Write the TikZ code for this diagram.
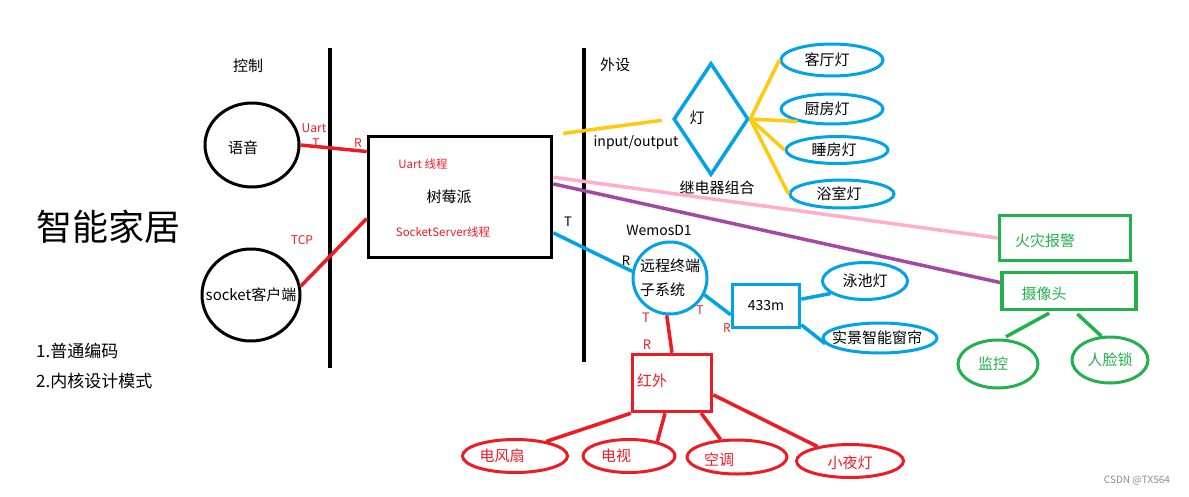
\documentclass[tikz,border=0pt]{standalone}
\usepackage{fontspec}
\setmainfont{Noto Sans CJK SC}
\usetikzlibrary{shapes.geometric}
\definecolor{pred}{RGB}{237,28,36}
\definecolor{pblue}{RGB}{0,162,232}
\definecolor{pyellow}{RGB}{255,201,14}
\definecolor{pgreen}{RGB}{34,177,76}
\definecolor{ppink}{RGB}{255,174,201}
\definecolor{ppurple}{RGB}{163,73,164}

\begin{document}
\begin{tikzpicture}[x=1pt,y=-1pt,
  lbl/.style={inner sep=0pt,font=\fontsize{15}{18}\selectfont},
  tag/.style={inner sep=0pt,text=pred,font=\fontsize{12}{14}\selectfont},
  wall/.style={line width=3.5pt},
  blob/.style={ellipse,draw,line width=3pt,inner sep=0pt},
  panel/.style={rectangle,draw,line width=3.5pt,inner sep=0pt},
  wire/.style={line width=3.5pt}]
\useasboundingbox (0,0) rectangle (1189,496);
\draw[wall] (330,48) -- (330,368);
\draw[wall] (584,48) -- (584,362);
\node[lbl] (ctrl) at (248,66) {控制};
\node[lbl,font=\fontsize{36}{40}\selectfont] (title) at (108,227) {智能家居};
\node[lbl,anchor=west,font=\fontsize{17}{20}\selectfont] (mode1) at (36,351) {1.普通编码};
\node[lbl,anchor=west,font=\fontsize{17}{20}\selectfont] (mode2) at (36,381) {2.内核设计模式};
\node[blob,minimum width=94pt,minimum height=84pt,label={[lbl,xshift=-9pt,yshift=-3pt]center:语音}] (voice) at (252,145) {};
\node[blob,minimum width=98pt,minimum height=92pt,label={[lbl]center:socket客户端}] (sock) at (251,295) {};
\node[panel,minimum width=183pt,minimum height=121pt] (pi) at (460,197) {};
\node[lbl] (pitxt) at (449,197) {树莓派};
\node[tag,font=\fontsize{11.5}{13}\selectfont] (uartth) at (423,164) {Uart 线程};
\node[tag,font=\fontsize{11.5}{13}\selectfont] (sockth) at (443,232) {SocketServer线程};
\node[tag] (uart) at (314,128) {Uart};
\node[tag] (uartt) at (316,143) {T};
\node[tag] (uartr) at (358,143) {R};
\node[tag] (tcp) at (302,240) {TCP};
\draw[wire,pred] (voice.east) -- (pi.154);
\draw[wire,pred] (sock.10) -- (pi.193);

\node[lbl] (peri) at (615,65) {外设};
\node[diamond,draw=pblue,line width=3.5pt,inner sep=0pt,minimum width=75pt,minimum height=112pt] (relay) at (711,119) {};
\node[lbl] (lamp) at (697,118) {灯};
\node[lbl,font=\fontsize{14}{16}\selectfont] (io) at (636,143) {input/output};
\node[lbl] (relaytxt) at (717,188) {继电器组合};
\node[blob,draw=pblue,minimum width=102pt,minimum height=32pt,label={[lbl,xshift=-5pt]center:客厅灯}] (living) at (832,60) {};
\node[blob,draw=pblue,minimum width=102pt,minimum height=30pt,label={[lbl,xshift=-5pt]center:厨房灯}] (kitchen) at (832,109) {};
\node[blob,draw=pblue,minimum width=102pt,minimum height=27pt,label={[lbl,xshift=-3pt]center:睡房灯}] (bedroom) at (837,150) {};
\node[blob,draw=pblue,minimum width=104pt,minimum height=28pt,label={[lbl,xshift=-3pt]center:浴室灯}] (bath) at (842,194) {};
\draw[wire,pyellow,shorten <=10pt,shorten >=10pt] (pi.north east) -- (relay.west);
\draw[wire,pyellow] (relay.east) -- (living.west);
\draw[wire,pyellow] (relay.east) -- (kitchen.200);
\draw[wire,pyellow] (relay.east) -- (bedroom.west);
\draw[wire,pyellow] (relay.east) -- (bath.west);

\node[panel,draw=pgreen,minimum width=131pt,minimum height=45pt] (fire) at (1065,238) {};
\node[lbl,text=pgreen] (firetxt) at (1045,241) {火灾报警};
\node[panel,draw=pgreen,minimum width=134pt,minimum height=37pt] (cam) at (1069,291) {};
\node[lbl,text=pgreen] (camtxt) at (1044,294) {摄像头};
\node[blob,draw=pgreen,minimum width=80pt,minimum height=48pt,label={[lbl,text=pgreen,xshift=-5pt]center:监控}] (monitor) at (998,364) {};
\node[blob,draw=pgreen,minimum width=76pt,minimum height=46pt,label={[lbl,text=pgreen]center:人脸锁}] (facelock) at (1110,360) {};
\draw[wire,ppink] (pi.12) -- (fire.west);
\draw[wire,ppurple] (pi.8) -- (cam.173);
\draw[wire,pgreen,shorten <=4pt,shorten >=4pt] (cam.-129) -- (monitor.80);
\draw[wire,pgreen,shorten <=4pt] (cam.-75) -- (facelock.110);

\node[lbl,font=\fontsize{14}{16}\selectfont] (wemos) at (659,230) {WemosD1};
\node[blob,draw=pblue,minimum width=74pt,minimum height=72pt,label={[lbl,align=left,font=\fontsize{15}{24}\selectfont]center:远程终端\\子系统}] (remote) at (670,278) {};
\node[lbl,font=\fontsize{13}{15}\selectfont] (pit) at (568,222) {T};
\node[lbl,font=\fontsize{13}{15}\selectfont] (remr) at (626,261) {R};
\draw[wire,pblue] (pi.-21) -- (remote.170);
\node[panel,draw=pblue,minimum width=67pt,minimum height=43pt,font=\fontsize{14}{16}\selectfont] (rf) at (766,306) {433m};
\node[tag] (rft) at (700,310) {T};
\node[tag] (rfr) at (727,328) {R};
\draw[wire,pblue] (remote.-26) -- (rf.194);
\node[blob,draw=pblue,minimum width=85pt,minimum height=37pt,label={[lbl]center:泳池灯}] (pool) at (865,281) {};
\node[blob,draw=pblue,minimum width=114pt,minimum height=30pt,label={[lbl,xshift=-3pt]center:实景智能窗帘}] (curtain) at (880,338) {};
\draw[wire,pblue] (rf.11) -- (pool.200);
\draw[wire,pblue] (rf.-28) -- (curtain.186);

\node[panel,draw=pred,minimum width=79pt,minimum height=57pt] (ir) at (672,383) {};
\node[lbl,text=pred] (irtxt) at (652,381) {红外};
\node[tag,font=\fontsize{13}{15}\selectfont] (irt) at (646,318) {T};
\node[tag,font=\fontsize{13}{15}\selectfont] (irr) at (647,345) {R};
\draw[wire,pred] (remote.-95) -- (ir.north);
\node[blob,draw=pred,minimum width=105pt,minimum height=33pt,label={[lbl,text=pred,xshift=-13pt]center:电风扇}] (fan) at (515,456) {};
\node[blob,draw=pred,minimum width=92pt,minimum height=33pt,label={[lbl,text=pred,xshift=-13pt]center:电视}] (tv) at (629,456) {};
\node[blob,draw=pred,minimum width=100pt,minimum height=34pt,label={[lbl,text=pred,xshift=-18pt,yshift=-3pt]center:空调}] (aircon) at (737,457) {};
\node[blob,draw=pred,minimum width=107pt,minimum height=33pt,label={[lbl,text=pred,yshift=-2pt]center:小夜灯}] (nightlamp) at (850,461) {};
\draw[wire,pred] (ir.south west) -- (fan.25);
\draw[wire,pred] (ir.-103) -- (tv.27);
\draw[wire,pred] (ir.-46) -- (aircon.133);
\draw[wire,pred] (ir.-16) -- (nightlamp.156);

\node[inner sep=0pt,text=black!45,font=\fontsize{10}{12}\selectfont] (mark) at (1137,481) {CSDN @TX564};
\end{tikzpicture}
\end{document}
